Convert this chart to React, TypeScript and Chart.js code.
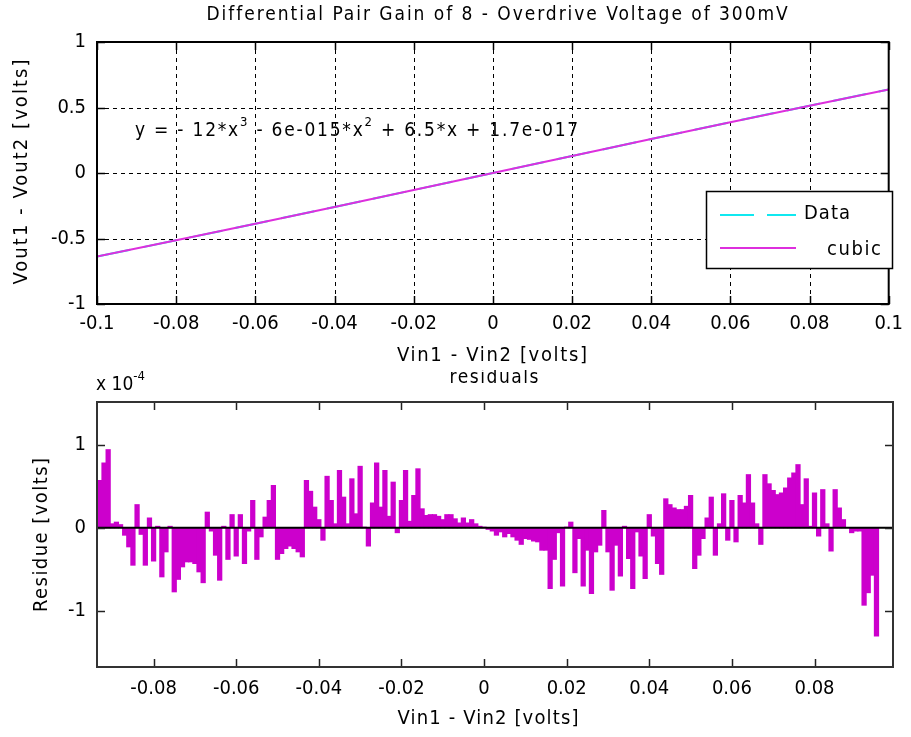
import React, { useEffect, useRef } from "react";
import { Chart, registerables } from "chart.js";
Chart.register(...registerables);

const FONT = '"DejaVu Sans Condensed", "Liberation Sans Narrow", "DejaVu Sans", sans-serif';

const chartTitle = "Differential Pair Gain of 8 - Overdrive Voltage of 300mV";
const topXLabel = "Vin1 - Vin2 [volts]";
const topYLabel = "Vout1 - Vout2 [volts]";
const botTitle = "residuals";
const botXLabel = "Vin1 - Vin2 [volts]";
const botYLabel = "Residue [volts]";
const legendNames = ["Data", "cubic"];

const topXTicks = [-0.1, -0.08, -0.06, -0.04, -0.02, 0, 0.02, 0.04, 0.06, 0.08, 0.1];
const topYTicks = [-1, -0.5, 0, 0.5, 1];
const topYTickLabels = ["-1", "-0.5", "0", "0.5", "1"];

const dataX = [-0.1, -0.08, -0.06, -0.04, -0.02, 0, 0.02, 0.04, 0.06, 0.08, 0.1];
const dataY = [-0.638, -0.514, -0.388, -0.259, -0.13, 0, 0.13, 0.259, 0.388, 0.514, 0.638];
const cubicY = [-0.638, -0.514, -0.388, -0.259, -0.13, 0, 0.13, 0.259, 0.388, 0.514, 0.638];

const botXTicks = [-0.08, -0.06, -0.04, -0.02, 0, 0.02, 0.04, 0.06, 0.08];
const botYTicks = [-1, 0, 1];
const residStartX = -0.093;
const residStep = 0.001;
// residuals in units of 1e-4 volts
const residuals = [
  0.57, 0.78, 0.94, 0.05, 0.07, 0.04, -0.09, -0.23, -0.45, 0.28,
  -0.08, -0.45, 0.12, -0.4, 0.02, -0.59, -0.29, 0.02, -0.77, -0.62,
  -0.47, -0.41, -0.41, -0.43, -0.53, -0.66, 0.19, -0.04, -0.33, -0.63,
  0.02, -0.38, 0.16, -0.34, 0.16, -0.43, -0.04, 0.33, -0.38, -0.11,
  0.13, 0.33, 0.51, -0.38, -0.31, -0.25, -0.22, -0.25, -0.29, -0.35,
  0.57, 0.44, 0.25, 0.1, -0.15, 0.62, 0.33, 0.05, 0.69, 0.37,
  0.05, 0.59, 0.17, 0.74, 0.01, -0.22, 0.3, 0.78, 0.25, 0.69,
  0.14, 0.55, -0.06, 0.33, 0.69, 0.08, 0.39, 0.71, 0.23, 0.15,
  0.16, 0.16, 0.14, 0.1, 0.16, 0.16, 0.11, 0.06, 0.12, 0.06,
  0.1, 0.05, 0.02, 0.01, -0.02, -0.04, -0.09, -0.05, -0.11, -0.07,
  -0.11, -0.15, -0.2, -0.13, -0.14, -0.16, -0.17, -0.27, -0.27, -0.73,
  -0.38, -0.06, -0.7, 0.01, 0.07, -0.54, -0.13, -0.7, -0.27, -0.79,
  -0.29, -0.21, 0.21, -0.29, -0.75, -0.21, -0.58, 0.02, -0.37, -0.73,
  -0.05, -0.34, -0.61, 0.16, -0.1, -0.43, -0.56, 0.35, 0.28, 0.24,
  0.22, 0.22, 0.26, 0.39, -0.49, -0.33, -0.13, 0.12, 0.37, -0.33,
  0.05, 0.41, -0.15, 0.33, -0.17, 0.39, 0.3, 0.64, 0.3, 0.05,
  -0.2, 0.64, 0.53, 0.45, 0.4, 0.42, 0.48, 0.6, 0.66, 0.76,
  0.28, 0.59, 0.02, 0.42, -0.1, 0.46, 0.05, -0.28, 0.46, 0.24,
  0.1, 0.0, -0.06, -0.04, -0.04, -0.93, -0.78, -0.57, -1.3,
];

const MAGENTA_LINE = "#dd2fdd";
const MAGENTA_BAR = "#cc00cc";
const CYAN = "#10e8f0";

type Part = { t: string; sup?: boolean };

function setSpacing(ctx: CanvasRenderingContext2D, px: number) {
  (ctx as any).letterSpacing = `${px}px`;
}

function drawParts(ctx: CanvasRenderingContext2D, parts: Part[], x: number, y: number, size: number, target: number) {
  setSpacing(ctx, 0);
  let w = 0;
  let n = 0;
  for (const p of parts) {
    ctx.font = `${p.sup ? Math.round(size * 0.68) : size}px ${FONT}`;
    w += ctx.measureText(p.t).width;
    n += p.t.length;
  }
  const ls = target > 0 ? Math.max(0, (target - w) / n) : 0;
  let cx = x;
  ctx.textBaseline = "middle";
  ctx.textAlign = "left";
  for (const p of parts) {
    ctx.font = `${p.sup ? Math.round(size * 0.68) : size}px ${FONT}`;
    setSpacing(ctx, 0);
    const pw = ctx.measureText(p.t).width + ls * p.t.length;
    setSpacing(ctx, ls);
    ctx.fillText(p.t, cx, p.sup ? y - size * 0.42 : y);
    cx += pw;
  }
  setSpacing(ctx, 0);
}

function seg(ctx: CanvasRenderingContext2D, x1: number, y1: number, x2: number, y2: number) {
  ctx.beginPath();
  ctx.moveTo(x1, y1);
  ctx.lineTo(x2, y2);
  ctx.stroke();
}

// draws text so that it spans `target` pixels (extra letter spacing), centred or left aligned
function text(ctx: CanvasRenderingContext2D, s: string, x: number, y: number, size: number, target: number, align: "center" | "left" = "center", rot = 0) {
  ctx.save();
  ctx.translate(x, y);
  ctx.rotate(rot);
  ctx.font = `${size}px ${FONT}`;
  setSpacing(ctx, 0);
  const w = ctx.measureText(s).width;
  const ls = target > 0 ? Math.max(0, (target - w) / Math.max(1, s.length - 1)) : 0;
  const total = w + ls * (s.length - 1);
  setSpacing(ctx, ls);
  ctx.textAlign = "left";
  ctx.textBaseline = "middle";
  ctx.fillStyle = "#000";
  ctx.fillText(s, align === "center" ? -total / 2 : 0, 0);
  setSpacing(ctx, 0);
  ctx.restore();
}

const topPlugin = {
  id: "topDeco",
  beforeDatasetsDraw(chart: any) {
    const { ctx, chartArea: a, scales } = chart;
    const x = scales.x, y = scales.y;
    ctx.save();
    ctx.strokeStyle = "#000";
    ctx.lineWidth = 1;
    ctx.setLineDash([4, 4]);
    topXTicks.slice(1, -1).forEach((v) => {
      const px = Math.round(x.getPixelForValue(v)) + 0.5;
      seg(ctx, px, a.top, px, a.bottom);
    });
    topYTicks.slice(1, -1).forEach((v) => {
      const py = Math.round(y.getPixelForValue(v)) + 0.5;
      seg(ctx, a.left, py, a.right, py);
    });
    ctx.restore();
  },
  afterDraw(chart: any) {
    const { ctx, chartArea: a, scales } = chart;
    const x = scales.x, y = scales.y;
    ctx.save();
    ctx.strokeStyle = "#000";
    ctx.lineWidth = 1.5;
    ctx.setLineDash([]);
    topXTicks.forEach((v) => {
      const px = Math.round(x.getPixelForValue(v)) + 0.5;
      seg(ctx, px, a.top, px, a.top + 8);
      seg(ctx, px, a.bottom, px, a.bottom - 8);
    });
    topYTicks.forEach((v) => {
      const py = Math.round(y.getPixelForValue(v)) + 0.5;
      seg(ctx, a.left, py, a.left + 8, py);
      seg(ctx, a.right, py, a.right - 8, py);
    });
    ctx.lineWidth = 2;
    ctx.strokeRect(a.left, a.top, a.right - a.left, a.bottom - a.top);

    // title and axis titles
    text(ctx, chartTitle, 497, 15, 19, 581);
    text(ctx, topXLabel, 492, 356, 20, 190);
    text(ctx, topYLabel, 22, 172, 20, 225, "center", -Math.PI / 2);

    // equation
    ctx.fillStyle = "#000";
    const eq: Part[] = [
      { t: "y = - 12*x" },
      { t: "3", sup: true },
      { t: " - 6e-015*x" },
      { t: "2", sup: true },
      { t: " + 6.5*x + 1.7e-017" },
    ];
    drawParts(ctx, eq, 135, 131, 19, 445);

    // legend
    const lx = 706, ly = 191, lw = 186, lh = 77;
    ctx.fillStyle = "#fff";
    ctx.fillRect(lx, ly, lw, lh);
    ctx.strokeStyle = "#000";
    ctx.lineWidth = 1.5;
    ctx.strokeRect(lx + 0.5, ly + 0.5, lw, lh);
    ctx.lineWidth = 2;
    ctx.strokeStyle = CYAN;
    ctx.setLineDash([34, 13]);
    seg(ctx, 720, 215, 796, 215);
    ctx.setLineDash([]);
    ctx.strokeStyle = MAGENTA_LINE;
    seg(ctx, 720, 248, 796, 248);
    text(ctx, legendNames[0], 804, 214, 20, 46, "left");
    text(ctx, legendNames[1], 827, 250, 20, 54, "left");
    ctx.restore();
  },
};

const botPlugin = {
  id: "botDeco",
  afterDraw(chart: any) {
    const { ctx, chartArea: a, scales } = chart;
    const x = scales.x, y = scales.y;
    ctx.save();
    ctx.strokeStyle = "#000";
    ctx.lineWidth = 2;
    const y0 = y.getPixelForValue(0);
    seg(ctx, a.left, y0, a.right, y0);
    ctx.strokeStyle = "#222";
    ctx.lineWidth = 1.5;
    botXTicks.forEach((v) => {
      const px = Math.round(x.getPixelForValue(v)) + 0.5;
      seg(ctx, px, a.top, px, a.top + 8);
      seg(ctx, px, a.bottom, px, a.bottom - 8);
    });
    botYTicks.forEach((v) => {
      const py = Math.round(y.getPixelForValue(v)) + 0.5;
      seg(ctx, a.left, py, a.left + 8, py);
      seg(ctx, a.right, py, a.right - 8, py);
    });
    ctx.strokeStyle = "#333";
    ctx.lineWidth = 2;
    ctx.strokeRect(a.left, a.top, a.right - a.left, a.bottom - a.top);

    text(ctx, botTitle, 494, 8, 19, 89);
    ctx.fillStyle = "#000";
    drawParts(ctx, [{ t: "x 10" }, { t: "-4", sup: true }], 96, 15, 19, 40);
    text(ctx, botXLabel, 488, 349, 20, 181);
    text(ctx, botYLabel, 42, 535 - 370, 20, 154, "center", -Math.PI / 2);
    ctx.restore();
  },
};

const tickFont = { family: FONT, size: 20 };

function fmt(v: number) {
  return String(Math.round(v * 1000) / 1000);
}

export default function App() {
  const topRef = useRef<HTMLCanvasElement>(null);
  const botRef = useRef<HTMLCanvasElement>(null);

  useEffect(() => {
    const top = new Chart(topRef.current!, {
      type: "line",
      data: {
        datasets: [
          {
            label: legendNames[0],
            data: dataX.map((x, i) => ({ x, y: dataY[i] })),
            borderColor: CYAN,
            borderDash: [34, 13],
            borderWidth: 2,
            pointRadius: 0,
            order: 2,
          },
          {
            label: legendNames[1],
            data: dataX.map((x, i) => ({ x, y: cubicY[i] })),
            borderColor: MAGENTA_LINE,
            borderWidth: 2,
            pointRadius: 0,
            order: 1,
          },
        ],
      },
      options: {
        animation: false,
        responsive: false,
        devicePixelRatio: 1,
        layout: { padding: { top: 42, right: 18, left: 0, bottom: 0 } },
        plugins: { legend: { display: false }, tooltip: { enabled: false }, title: { display: false } },
        scales: {
          x: {
            type: "linear",
            min: -0.1,
            max: 0.1,
            afterBuildTicks: (s: any) => {
              s.ticks = topXTicks.map((v) => ({ value: v }));
            },
            afterFit: (s: any) => {
              s.height = 66;
            },
            ticks: { font: tickFont, color: "#000", padding: 8, maxRotation: 0, autoSkip: false, callback: (v: any) => fmt(v) },
            grid: { display: false, drawTicks: false },
            border: { display: false },
          },
          y: {
            type: "linear",
            min: -1,
            max: 1,
            afterBuildTicks: (s: any) => {
              s.ticks = topYTicks.map((v) => ({ value: v }));
            },
            afterFit: (s: any) => {
              s.width = 97;
            },
            ticks: {
              font: tickFont,
              color: "#000",
              padding: 11,
              callback: (v: any) => topYTickLabels[topYTicks.indexOf(v)] ?? fmt(v),
            },
            grid: { display: false, drawTicks: false },
            border: { display: false },
          },
        },
      },
      plugins: [topPlugin],
    } as any);

    const bot = new Chart(botRef.current!, {
      type: "bar",
      data: {
        datasets: [
          {
            data: residuals.map((v, i) => ({ x: residStartX + i * residStep, y: v })),
            backgroundColor: MAGENTA_BAR,
            borderWidth: 0,
            barPercentage: 1,
            categoryPercentage: 1,
            barThickness: 4.6,
          },
        ],
      },
      options: {
        animation: false,
        responsive: false,
        devicePixelRatio: 1,
        layout: { padding: { top: 32, right: 18, left: 0, bottom: 0 } },
        plugins: { legend: { display: false }, tooltip: { enabled: false }, title: { display: false } },
        scales: {
          x: {
            type: "linear",
            offset: false,
            min: -0.0937,
            max: 0.099,
            afterBuildTicks: (s: any) => {
              s.ticks = botXTicks.map((v) => ({ value: v }));
            },
            afterFit: (s: any) => {
              s.height = 70;
            },
            ticks: { font: tickFont, color: "#000", padding: 10, maxRotation: 0, autoSkip: false, callback: (v: any) => fmt(v) },
            grid: { display: false, drawTicks: false },
            border: { display: false },
          },
          y: {
            type: "linear",
            min: -1.67,
            max: 1.51,
            afterBuildTicks: (s: any) => {
              s.ticks = botYTicks.map((v) => ({ value: v }));
            },
            afterFit: (s: any) => {
              s.width = 97;
            },
            ticks: { font: tickFont, color: "#000", padding: 11, callback: (v: any) => fmt(v) },
            grid: { display: false, drawTicks: false },
            border: { display: false },
          },
        },
      },
      plugins: [botPlugin],
    } as any);

    return () => {
      top.destroy();
      bot.destroy();
    };
  }, []);

  return (
    <div style={{ position: "absolute", left: 0, top: 0, width: 911, height: 737, background: "#fff" }}>
      <canvas ref={topRef} width={911} height={370} style={{ position: "absolute", left: 0, top: 0, width: 911, height: 370 }} />
      <canvas ref={botRef} width={911} height={367} style={{ position: "absolute", left: 0, top: 370, width: 911, height: 367 }} />
    </div>
  );
}
